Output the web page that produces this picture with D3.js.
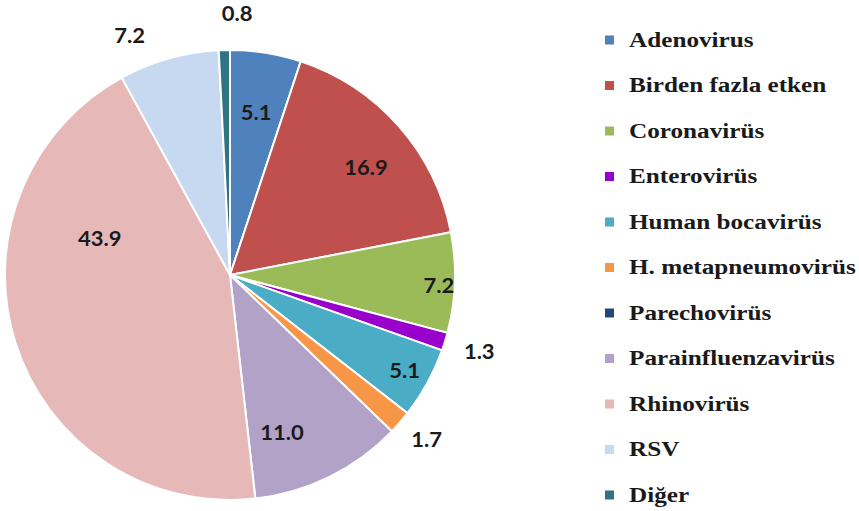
<!DOCTYPE html>
<html>
<head>
<meta charset="utf-8">
<script src="https://cdn.jsdelivr.net/npm/d3@7/dist/d3.min.js"></script>
<style>
  body { margin: 0; background: #fff; }
</style>
</head>
<body>
<div class="canvas"></div>
<script>
// data
const categories = ["Adenovirus", "Birden fazla etken", "Coronavirüs", "Enterovirüs", "Human bocavirüs",
  "H. metapneumovirüs", "Parechovirüs", "Parainfluenzavirüs", "Rhinovirüs", "RSV", "Diğer"];
const values = [5.1, 16.9, 7.2, 1.3, 5.1, 1.7, 0, 11.0, 43.9, 7.2, 0.8];
const valueLabels = ["5.1", "16.9", "7.2", "1.3", "5.1", "1.7", "", "11.0", "43.9", "7.2", "0.8"];
const colors = ["#4f81bd", "#c0504d", "#9bbb59", "#9900cc", "#4bacc6", "#f79646",
  "#1f497d", "#b3a2c7", "#e6b9b8", "#c6d9f1", "#2e7482"];

// label placement (radius fraction, angle shift in degrees) - like Excel "best fit"
const labelRadius = [0.73, 0.77, 0.93, 1.16, 0.885, 1.14, 1, 0.74, 0.6, 1.15, 1.16];
const labelShift = [0, 3, 1, 0, 0, -1, 0, 8, 33, -7, 3];

const dims = { width: 859, height: 511, radius: 225 };
const cent = { x: 230, y: 275 };

const svg = d3.select(".canvas").append("svg")
  .attr("width", dims.width)
  .attr("height", dims.height);

const graph = svg.append("g").attr("transform", `translate(${cent.x}, ${cent.y})`);

const data = categories.map((c, i) => ({ name: c, value: values[i], label: valueLabels[i], i }));

const pie = d3.pie().sort(null).value(d => d.value);
const arcPath = d3.arc().outerRadius(dims.radius).innerRadius(0);

const arcs = pie(data);

graph.selectAll("path")
  .data(arcs.filter(d => d.data.value > 0))
  .enter()
  .append("path")
  .attr("d", arcPath)
  .attr("fill", d => colors[d.data.i])
  .attr("stroke", "white")
  .attr("stroke-width", 2);

// value labels
graph.selectAll("text.val")
  .data(arcs.filter(d => d.data.label))
  .enter()
  .append("text")
  .attr("class", "val")
  .attr("transform", d => {
    const a = (d.startAngle + d.endAngle) / 2 + labelShift[d.data.i] * Math.PI / 180;
    const r = dims.radius * labelRadius[d.data.i];
    return `translate(${r * Math.sin(a)}, ${-r * Math.cos(a)}) scale(1.1, 1)`;
  })
  .attr("text-anchor", "middle")
  .attr("dy", "0.35em")
  .style("font-family", "Lato, 'Open Sans', sans-serif")
  .style("font-weight", "bold")
  .style("font-size", "20px")
  .attr("fill", "#1a1a1a")
  .text(d => d.data.label);

// legend
const legendY = d3.scalePoint().domain(categories).range([40, 495]);

const legend = svg.append("g").attr("transform", "translate(605, 0)");
const rows = legend.selectAll("g")
  .data(categories)
  .enter()
  .append("g")
  .attr("transform", d => `translate(0, ${legendY(d)})`);

rows.append("rect")
  .attr("x", 0)
  .attr("y", -4.5)
  .attr("width", 9)
  .attr("height", 9)
  .attr("fill", (d, i) => colors[i]);

rows.append("text")
  .attr("transform", "translate(24, 0) scale(1.2, 1)")
  .attr("dy", "0.33em")
  .style("font-family", "'Liberation Serif', 'Times New Roman', serif")
  .style("font-weight", "bold")
  .style("font-size", "21px")
  .attr("fill", "#1a1a1a")
  .text(d => d);
</script>
</body>
</html>
